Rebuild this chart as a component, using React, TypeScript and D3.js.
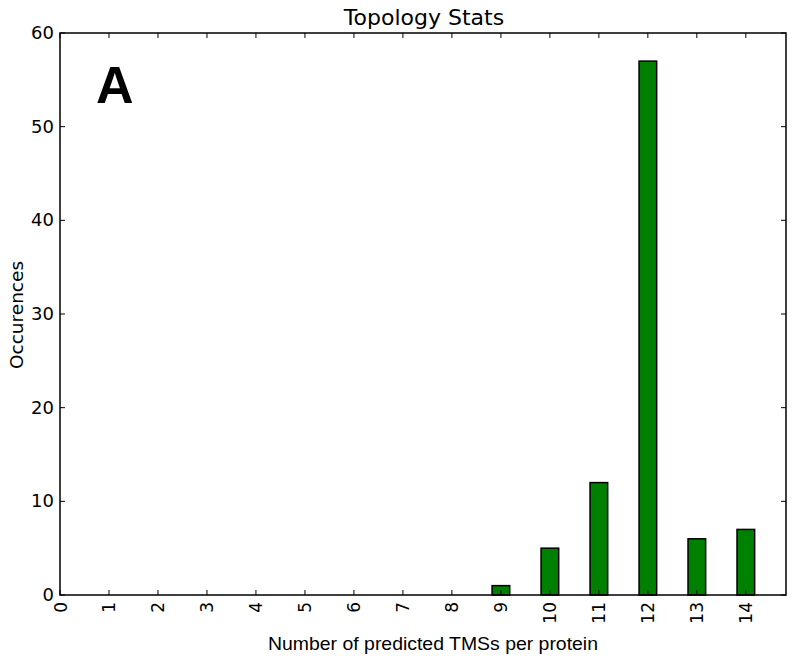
import React from "react";
import * as d3 from "d3";

const categories = [0, 1, 2, 3, 4, 5, 6, 7, 8, 9, 10, 11, 12, 13, 14];
const barCats = [9, 10, 11, 12, 13, 14];
const barValues = [1, 5, 12, 57, 6, 7];
const yTicks = [0, 10, 20, 30, 40, 50, 60];

export default function App() {
  const W = 795, H = 660;
  const L = 60, R = 786, T = 33, B = 595;
  const x = d3.scaleLinear().domain([0, 14.82]).range([L, R]);
  const y = d3.scaleLinear().domain([0, 60]).range([B, T]);
  const bw = x(0.36) - x(0);
  const tl = 5;
  const font = "'DejaVu Sans', sans-serif";
  const arial = "'Liberation Sans', Arial, sans-serif";
  return (
    <svg width={W} height={H} style={{ position: "absolute", left: 0, top: 0, background: "#fff" }}>
      <text x={424} y={25} textAnchor="middle" fontFamily={font} fontSize={22}>Topology Stats</text>
      {barCats.map((c, i) => (
        <rect key={c} x={x(c) - bw / 2} y={y(barValues[i])} width={bw} height={y(0) - y(barValues[i])}
          fill="#008000" stroke="#000" strokeWidth={1.5} />
      ))}
      <rect x={L} y={T} width={R - L} height={B - T} fill="none" stroke="#000" strokeWidth={1.5} />
      {categories.map(c => (
        <g key={c}>
          <line x1={x(c)} x2={x(c)} y1={B} y2={B - tl} stroke="#000" />
          <line x1={x(c)} x2={x(c)} y1={T} y2={T + tl} stroke="#000" />
          <text transform={`translate(${x(c) + 6.5},${B + 7}) rotate(-90)`} textAnchor="end"
            fontFamily={font} fontSize={17}>{c}</text>
        </g>
      ))}
      {yTicks.map(t => (
        <g key={t}>
          <line x1={L} x2={L + tl} y1={y(t)} y2={y(t)} stroke="#000" />
          <line x1={R} x2={R - tl} y1={y(t)} y2={y(t)} stroke="#000" />
          <text x={L - 6} y={y(t) + 6} textAnchor="end" fontFamily={font} fontSize={18}>{t}</text>
        </g>
      ))}
      <text x={96} y={103} fontFamily={arial} fontWeight="bold" fontSize={52}>A</text>
      <text x={433} y={650} textAnchor="middle" fontFamily={arial} fontSize={18.5}
        textLength={330} lengthAdjust="spacingAndGlyphs">Number of predicted TMSs per protein</text>
      <text transform={`translate(23,315) rotate(-90)`} textAnchor="middle" fontFamily={font} fontSize={18.5}>Occurences</text>
    </svg>
  );
}
